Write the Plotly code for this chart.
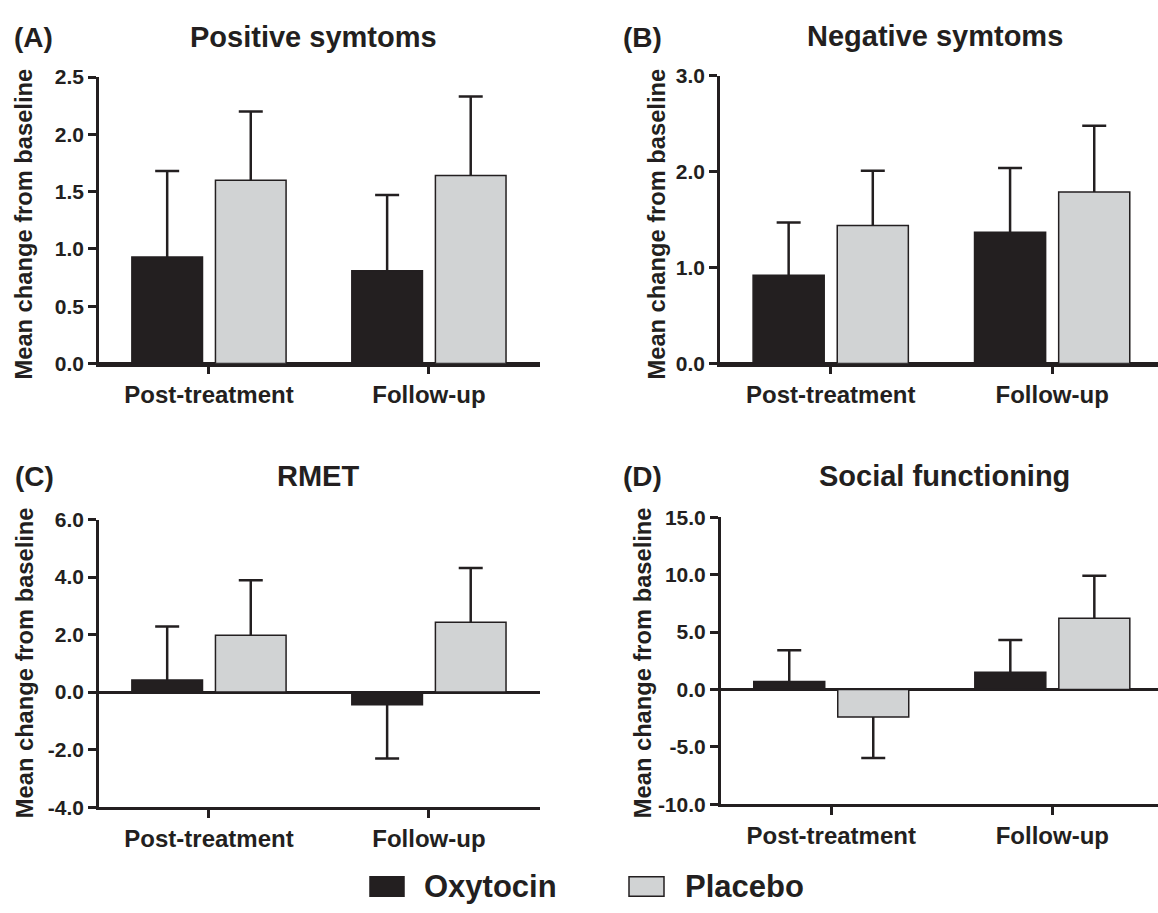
import plotly.graph_objects as go

# ---------------- data ----------------
categories = ["Post-treatment", "Follow-up"]

oxy_A = [0.93, 0.81]
oxy_A_err = [0.75, 0.66]
pla_A = [1.60, 1.64]
pla_A_err = [0.60, 0.69]

oxy_B = [0.92, 1.37]
oxy_B_err = [0.55, 0.67]
pla_B = [1.44, 1.79]
pla_B_err = [0.57, 0.69]

oxy_C = [0.42, -0.44]
oxy_C_err = [1.86, 1.87]
pla_C = [1.98, 2.43]
pla_C_err = [1.91, 1.89]

oxy_D = [0.70, 1.49]
oxy_D_err = [2.71, 2.81]
pla_D = [-2.41, 6.19]
pla_D_err = [3.57, 3.71]

titles = ["Positive symtoms", "Negative symtoms", "RMET", "Social functioning"]
letters = ["(A)", "(B)", "(C)", "(D)"]
y_ticks_A = [0, 0.5, 1.0, 1.5, 2.0, 2.5]
y_labels_A = ["0.0", "0.5", "1.0", "1.5", "2.0", "2.5"]
y_ticks_B = [0, 1, 2, 3]
y_labels_B = ["0.0", "1.0", "2.0", "3.0"]
y_ticks_C = [-4, -2, 0, 2, 4, 6]
y_labels_C = ["-4.0", "-2.0", "0.0", "2.0", "4.0", "6.0"]
y_ticks_D = [-10, -5, 0, 5, 10, 15]
y_labels_D = ["-10.0", "-5.0", "0.0", "5.0", "10.0", "15.0"]
series_names = ["Oxytocin", "Placebo"]

# ---------------- style ----------------
W, H = 1158, 913
INK = "#231f20"
OXY = "#231f20"
PLA = "#d1d3d4"
FONT = "Arial, 'Liberation Sans', Helvetica, sans-serif"


def px_x(p):
    return p / W


def px_y(p):
    return 1 - p / H


panels = [
    dict(oxy=oxy_A, oerr=oxy_A_err, pla=pla_A, perr=pla_A_err, ticks=y_ticks_A, labels=y_labels_A,
         xdom=(99, 540), ydom=(360.7, 66.7), xr=[-0.5, 1.505]),
    dict(oxy=oxy_B, oerr=oxy_B_err, pla=pla_B, perr=pla_B_err, ticks=y_ticks_B, labels=y_labels_B,
         xdom=(720, 1158), ydom=(360.7, 65.5), xr=[-0.5, 1.478]),
    dict(oxy=oxy_C, oerr=oxy_C_err, pla=pla_C, perr=pla_C_err, ticks=y_ticks_C, labels=y_labels_C,
         xdom=(99, 540), ydom=(815.7, 520.7), xr=[-0.5, 1.505]),
    dict(oxy=oxy_D, oerr=oxy_D_err, pla=pla_D, perr=pla_D_err, ticks=y_ticks_D, labels=y_labels_D,
         xdom=(720.7, 1158), ydom=(812.7, 518.3), xr=[-0.5, 1.478]),
]


def err_dict(vals, errs, hide):
    # one-sided error bars pointing away from zero; the inner end is pushed a few
    # pixels inside the bar (hide) so that its cap is covered by the bar drawn on top
    up = [e if v >= 0 else hide for v, e in zip(vals, errs)]
    dn = [hide if v >= 0 else e for v, e in zip(vals, errs)]
    return dict(type="data", symmetric=False, array=up, arrayminus=dn,
                color=INK, thickness=2.5, width=12)


fig = go.Figure()
layout = {}
for i, p in enumerate(panels):
    sfx = "" if i == 0 else str(i + 1)
    xa, ya = "x" + sfx, "y" + sfx
    t = p["ticks"]
    units_per_px = (t[-1] - t[0]) / (p["ydom"][0] - p["ydom"][1])
    hide = 4 * units_per_px
    for name, vals, errs, col in [
        (series_names[0], p["oxy"], p["oerr"], OXY),
        (series_names[1], p["pla"], p["perr"], PLA),
    ]:
        # error bars drawn first (transparent bar), visible bar drawn on top
        fig.add_trace(go.Bar(
            x=categories, y=vals, name=name, xaxis=xa, yaxis=ya,
            offsetgroup=name,
            marker=dict(color="rgba(0,0,0,0)", line=dict(width=0)),
            error_y=err_dict(vals, errs, hide), showlegend=False, hoverinfo="skip",
        ))
        fig.add_trace(go.Bar(
            x=categories, y=vals, name=name, xaxis=xa, yaxis=ya,
            offsetgroup=name,
            marker=dict(color=col, line=dict(color=INK, width=1.5)),
            showlegend=False,
        ))
    layout["xaxis" + sfx] = dict(
        domain=[px_x(p["xdom"][0]), px_x(p["xdom"][1])],
        anchor=ya, range=p["xr"], type="category",
        showline=True, linecolor=INK, linewidth=2.5,
        ticks="outside", ticklen=8, tickwidth=2.5, tickcolor=INK,
        tickfont=dict(family=FONT, size=24, color=INK, weight="bold"),
        showgrid=False, zeroline=False, fixedrange=True,
    )
    layout["yaxis" + sfx] = dict(
        domain=[px_y(p["ydom"][0]), px_y(p["ydom"][1])],
        anchor=xa, range=[t[0], t[-1]], tickmode="array",
        tickvals=t, ticktext=p["labels"],
        showline=True, linecolor=INK, linewidth=2.5,
        ticks="outside", ticklen=8, tickwidth=2.5, tickcolor=INK,
        tickfont=dict(family=FONT, size=21, color=INK, weight="bold"),
        showgrid=False, zeroline=True, zerolinecolor=INK, zerolinewidth=2.5,
        fixedrange=True,
    )

annotations = []
title_pos = [(313, 25.5), (934.6, 25), (318, 476), (944.5, 476)]
letter_pos = [(12, 26), (620.5, 26), (12.5, 477), (620.5, 477)]
ytitle_pos = [(24, 218), (657, 218), (25, 668), (643, 668)]
for i in range(4):
    annotations.append(dict(
        text=titles[i], x=px_x(title_pos[i][0]), y=px_y(title_pos[i][1]),
        xref="paper", yref="paper", xanchor="center", yanchor="middle",
        showarrow=False, font=dict(family=FONT, size=29, color=INK, weight="bold")))
    annotations.append(dict(
        text=letters[i], x=px_x(letter_pos[i][0]), y=px_y(letter_pos[i][1]),
        xref="paper", yref="paper", xanchor="left", yanchor="middle",
        showarrow=False, font=dict(family=FONT, size=28, color=INK, weight="bold")))
    annotations.append(dict(
        text="Mean change from baseline", textangle=-90,
        x=px_x(ytitle_pos[i][0]), y=px_y(ytitle_pos[i][1]),
        xref="paper", yref="paper", xanchor="center", yanchor="middle",
        showarrow=False, font=dict(family=FONT, size=23.7, color=INK, weight="bold")))

# legend (manual keys)
shapes = [
    dict(type="rect", xref="paper", yref="paper",
         x0=px_x(370), x1=px_x(404), y0=px_y(907), y1=px_y(887),
         fillcolor=OXY, line=dict(color=INK, width=1.5)),
    dict(type="rect", xref="paper", yref="paper",
         x0=px_x(629), x1=px_x(664), y0=px_y(907), y1=px_y(887),
         fillcolor=PLA, line=dict(color=INK, width=1.5)),
]
annotations.append(dict(text=series_names[0], x=px_x(422), y=px_y(897), xref="paper", yref="paper",
                        xanchor="left", yanchor="middle", showarrow=False,
                        font=dict(family=FONT, size=31, color=INK, weight="bold")))
annotations.append(dict(text=series_names[1], x=px_x(683), y=px_y(897), xref="paper", yref="paper",
                        xanchor="left", yanchor="middle", showarrow=False,
                        font=dict(family=FONT, size=31, color=INK, weight="bold")))

fig.update_layout(
    width=W, height=H, margin=dict(l=0, r=0, t=0, b=0),
    paper_bgcolor="white", plot_bgcolor="white",
    barmode="group", bargap=0.24, bargroupgap=0.155,
    showlegend=False, annotations=annotations, shapes=shapes,
    font=dict(family=FONT, color=INK),
    **layout,
)

fig.write_html(
    "out.html",
    config={"displayModeBar": False},
    post_script="document.body.style.margin='0';document.body.style.overflow='hidden';",
)
